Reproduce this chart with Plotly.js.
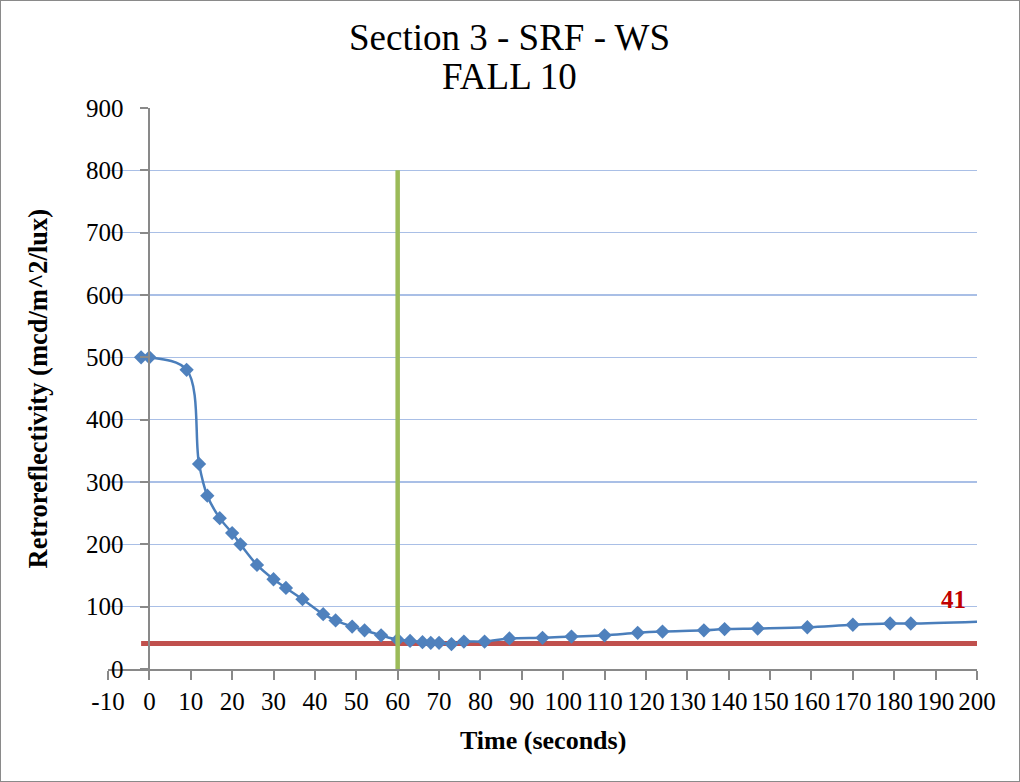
<!DOCTYPE html>
<html>
<head>
<meta charset="utf-8">
<script src="https://cdn.plot.ly/plotly-3.0.1.min.js"></script>
<style>
html,body{margin:0;padding:0;background:#fff;}
#chart{width:1018px;height:780px;border:1px solid #8a8a8a;}
</style>
</head>
<body>
<div id="chart"></div>
<script>
// Measured series
var timeSec = [-2, 0, 9, 12, 14, 17, 20, 22, 26, 30, 33, 37, 42, 45, 49, 52, 56, 60, 63, 66, 68, 70, 73, 76, 81, 87, 95, 102, 110, 118, 124, 134, 139, 147, 159, 170, 179, 184, 205];
var retro   = [500, 500, 480, 329, 278, 242, 218, 200, 167, 144, 130, 112, 88, 78, 68, 62, 54, 47, 45, 43, 42, 42, 40, 44, 44, 49, 50, 52, 54, 58, 60, 62, 64, 65, 67, 71, 73, 73, 77];
// Threshold line (41) and 60-second marker line
var thresholdX = [-2, 200];
var thresholdY = [41, 41];
var thresholdLabel = "41";
var markerX = [60, 60];
var markerY = [0, 800];
// Tick labels
var xTickVals = [-10, 0, 10, 20, 30, 40, 50, 60, 70, 80, 90, 100, 110, 120, 130, 140, 150, 160, 170, 180, 190, 200];
var xTickText = ["-10", "0", "10", "20", "30", "40", "50", "60", "70", "80", "90", "100", "110", "120", "130", "140", "150", "160", "170", "180", "190", "200"];
// Text
var titleLine1 = "Section 3 - SRF - WS";
var titleLine2 = "FALL 10";
var xTitle = "Time (seconds)";
var yTitle = "Retroreflectivity (mcd/m^2/lux)";

var serif = "'Liberation Serif', 'Times New Roman', Times, serif";
var axisGray = "#898989";

var traces = [
  {x: thresholdX, y: thresholdY, mode: "lines", line: {color: "#C0504D", width: 5}, hoverinfo: "skip"},
  {x: timeSec, y: retro, mode: "lines+markers",
   line: {color: "#4A7EBB", width: 2.5, shape: "spline", smoothing: 1},
   marker: {symbol: "diamond", size: 11, color: "#4F81BD", line: {width: 0}}},
  {x: markerX, y: markerY, mode: "lines", line: {color: "#9BBB59", width: 4.5}, hoverinfo: "skip"}
];

var layout = {
  width: 1018, height: 780,
  margin: {l: 107, r: 42, t: 107, b: 112},
  paper_bgcolor: "#fff", plot_bgcolor: "#fff",
  showlegend: false,
  font: {family: serif, color: "#000"},
  xaxis: {
    range: [-10, 200], tickmode: "array", tickvals: xTickVals, ticktext: xTickText,
    showgrid: false, zeroline: false,
    showline: true, linecolor: axisGray, linewidth: 2,
    ticks: "outside", ticklen: 9, tickwidth: 2, tickcolor: axisGray,
    tickfont: {family: serif, size: 25, color: "#000"},
    ticklabelstandoff: 0
  },
  yaxis: {
    range: [0, 900], dtick: 100,
    anchor: "free", position: 10/210,
    showgrid: true, gridcolor: "#A9BFE6", gridwidth: 1.5,
    zeroline: false,
    showline: true, linecolor: axisGray, linewidth: 2,
    ticks: "outside", ticklen: 8, tickwidth: 2, tickcolor: axisGray,
    tickfont: {family: serif, size: 25, color: "#000"},
    ticklabelstandoff: 12
  },
  annotations: [
    {text: titleLine1, xref: "paper", yref: "paper", x: 0.4626, y: 1.1248, xanchor: "center", yanchor: "middle",
     showarrow: false, font: {family: serif, size: 37, color: "#000"}},
    {text: titleLine2, xref: "paper", yref: "paper", x: 0.4626, y: 1.0553, xanchor: "center", yanchor: "middle",
     showarrow: false, font: {family: serif, size: 37, color: "#000"}},
    {text: "<b>" + xTitle + "</b>", xref: "paper", yref: "paper", x: 0.5, y: -0.1266, xanchor: "center", yanchor: "middle",
     showarrow: false, font: {family: serif, size: 26, color: "#000"}},
    {text: "<b>" + yTitle + "</b>", xref: "paper", yref: "paper", x: -0.0806, y: 0.5, xanchor: "center", yanchor: "middle",
     textangle: -90, showarrow: false, font: {family: serif, size: 26.5, color: "#000"}},
    {text: "<b>" + thresholdLabel + "</b>", xref: "x", yref: "y", x: 194.2, y: 112, xanchor: "center", yanchor: "middle",
     showarrow: false, font: {family: serif, size: 25, color: "#C00000"}}
  ]
};

Plotly.newPlot("chart", traces, layout, {displayModeBar: false, staticPlot: true});
</script>
</body>
</html>
